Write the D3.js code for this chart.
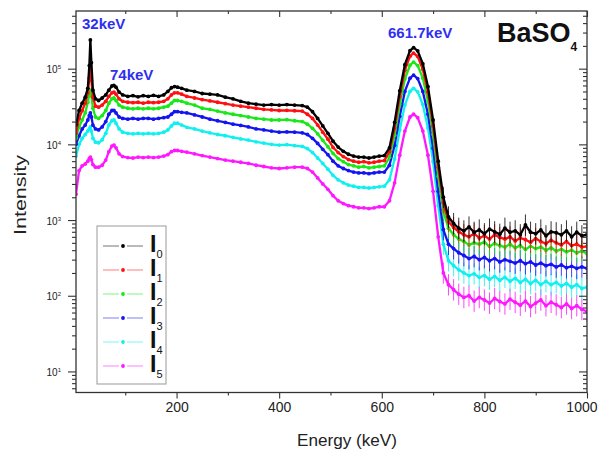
<!DOCTYPE html>
<html>
<head>
<meta charset="utf-8">
<script src="https://cdn.jsdelivr.net/npm/d3@7"></script>
<style>
  body { margin: 0; background: #fff; }
  svg text { font-family: "Liberation Sans", Arial, sans-serif; }
</style>
</head>
<body>
<svg id="chart" width="598" height="452"></svg>
<script>
// Energy channels (keV) shared by every spectrum
const energy = [4,10,16,22,27,30,32,34,37,42,48,55,62,68,74,78,82,88,95,105,115,125,135,145,155,165,175,
  183,190,196,202,210,220,235,250,265,280,295,310,325,340,355,370,385,400,415,430,445,
  455,465,475,485,495,505,515,525,535,545,555,565,575,585,595,
  605,615,625,635,645,655,662,670,680,690,700,710,720,730,
  740,750,760,770,780,790,800,810,820,830,840,850,860,870,880,890,900,910,920,930,940,950,960,970,980,990,1000];

// Intensities
const i0 = [18000,28000,35000,42000,55000,110000,240000,120000,52000,40000,38000,41000,45000,52000,59000,60000,57000,49000,45000,43000,44000,42500,44000,43000,44500,43000,45000,
  50000,56000,58000,57000,55000,52000,50000,47000,46000,45000,42000,40000,37000,35000,34000,33000,33500,33000,33500,33000,32500,
  31000,27000,22000,17500,14000,11000,9200,8100,7400,7000,6800,6800,6600,6800,7000,
  7100,9000,19500,51000,113000,173000,190000,172000,116000,58000,21000,6000,2000,1100,
  900,780,720,810,690,740,660,760,700,650,780,690,720,640,860,690,660,740,620,700,680,640,720,600,690,620,640];
const i1 = [14000,22000,28000,35000,48000,75000,105000,70000,42000,32000,31000,33000,37000,43000,48000,49000,46000,40000,37000,36000,35500,36000,35000,36000,35500,36000,37000,
  40000,45000,48000,48000,46000,43000,41000,39000,37500,36000,34500,33000,32000,31000,30000,29000,28500,28000,28200,27800,27500,
  25000,22000,18000,14500,11700,9100,7800,6900,6300,6000,5800,5900,5700,5800,6000,
  6100,8000,16500,43000,95000,146000,160000,145000,98000,49000,17500,5000,1700,950,
  800,700,640,600,660,580,620,560,640,590,560,600,530,580,550,510,570,520,490,540,500,470,520,460,480,440,450];
const i2 = [12000,17000,21000,26000,36000,46000,52000,44000,30000,23000,22000,24000,28000,35000,40000,41000,38000,33000,31000,30000,29500,30000,29500,30000,29500,30000,31000,
  32000,35000,38000,38000,37000,35000,33000,30000,29000,27500,26000,25000,24000,23000,22000,21500,21000,21000,21200,20500,20000,
  18500,16300,13800,11300,9300,7600,6500,5900,5400,5200,5000,5100,4900,5000,5100,
  5200,6700,13200,33500,73000,111000,122000,110000,75000,37000,13500,3800,1300,780,
  640,560,520,470,500,480,510,450,490,460,440,480,430,460,410,450,420,440,400,430,390,410,380,400,370,390,360];
const i3 = [10000,13000,16000,18000,21000,24000,26000,23000,18000,16000,15500,17000,20000,25000,28000,28000,26000,23000,22000,21500,22000,21500,22000,22000,21500,22000,22500,
  23000,25000,27000,27000,26500,26000,24500,23000,21500,20500,19500,18500,17800,17000,16000,15500,15000,14500,14600,14500,14200,
  13500,12000,10300,8600,7300,6000,5200,4800,4500,4300,4200,4200,4100,4200,4300,
  4300,5300,9700,23500,50000,75000,82000,74000,50000,25000,8900,2400,750,480,
  420,370,340,310,330,300,320,290,310,280,300,285,270,290,265,280,255,270,250,260,240,255,235,245,230,240,230];
const i4 = [7000,10000,12000,13500,15000,16000,17000,15000,12000,10700,10500,11500,14000,18000,20500,21000,19000,16000,14500,14000,13800,14000,13800,14000,13800,14000,14500,
  15500,17500,19000,19000,18000,16800,16000,15000,14200,13500,13000,12400,11800,11400,10800,10400,10000,9800,9900,9600,9400,
  8800,7800,6600,5600,4700,3900,3400,3100,2900,2800,2700,2700,2650,2700,2750,
  2800,3400,6400,15500,33000,50000,55000,49500,33500,16500,5900,1550,480,290,
  250,220,200,185,195,175,185,165,180,160,175,155,170,150,165,145,160,140,155,140,150,135,145,130,140,125,130];
const i5 = [2200,4500,5200,5500,6000,6500,6800,6300,5400,5000,5000,5300,6200,8000,9500,9800,9000,7500,6900,6700,6600,6800,6700,6800,6700,6800,7000,
  7300,8000,8300,8300,8100,7900,7500,7100,6800,6500,6200,6000,5800,5600,5300,5100,4900,4800,4900,5000,5000,
  4800,4300,3600,3000,2550,2100,1800,1650,1550,1500,1450,1450,1420,1450,1500,
  1500,1800,3100,7200,15000,23000,25000,22500,15000,7200,2400,600,200,140,
  120,105,95,100,85,95,88,80,92,84,78,90,82,75,85,72,80,88,74,82,76,70,78,68,74,66,62];

const seriesNames = ["0", "1", "2", "3", "4", "5"];
const seriesValues = [i0, i1, i2, i3, i4, i5];
const colors = ["#000000", "#ff1010", "#18e818", "#1414f0", "#10f0f0", "#ff18ff"];

const xTicks = [200, 400, 600, 800, 1000];
const xMinor = [100, 300, 500, 700, 900];
const yTicks = [1e1, 1e2, 1e3, 1e4, 1e5];

// peak labels
const peakLabels = ["32keV", "74keV", "661.7keV"];
const peakPos = [[82, 29], [110, 80], [388, 38]];

// plot box
const pLeft = 76, pRight = 587, pTop = 11, pBottom = 392.5;

const svg = d3.select("#chart");

const x = d3.scaleLinear().domain([4, 1000]).range([pLeft, pRight]);
const y = d3.scaleLog().domain([5.27, 5.78e5]).range([pBottom, pTop]);

// minor log ticks 2..9 of each decade inside the domain
const yMinor = [];
for (let d = 0; d <= 5; d++) {
  for (let k = 2; k <= 9; k++) {
    const v = k * Math.pow(10, d);
    if (v > 5.27 && v < 5.78e5) yMinor.push(v);
  }
}

svg.append("clipPath").attr("id", "clip")
  .append("rect")
  .attr("x", pLeft).attr("y", pTop)
  .attr("width", pRight - pLeft).attr("height", pBottom - pTop);

const plot = svg.append("g").attr("clip-path", "url(#clip)");

// Draw spectra, I5 underneath, I0 on top
const line = d3.line()
  .x((d, i) => x(energy[i]))
  .y(d => y(d));

for (let s = seriesValues.length - 1; s >= 0; s--) {
  const vals = seriesValues[s];
  const g = plot.append("g");
  // error bars in the noisy tail
  g.selectAll("line.err")
    .data(vals.map((v, i) => [energy[i], v]).filter(d => d[0] >= 720))
    .enter().append("line")
    .attr("x1", d => x(d[0])).attr("x2", d => x(d[0]))
    .attr("y1", d => y(d[1] * 0.72)).attr("y2", d => y(d[1] * 1.38))
    .attr("stroke", colors[s]).attr("stroke-width", 0.8);
  g.append("path")
    .datum(vals)
    .attr("d", line)
    .attr("fill", "none")
    .attr("stroke", colors[s])
    .attr("stroke-width", 2.3)
    .attr("stroke-linejoin", "round");
  g.selectAll("circle")
    .data(vals)
    .enter().append("circle")
    .attr("cx", (d, i) => x(energy[i]))
    .attr("cy", d => y(d))
    .attr("r", 1.9)
    .attr("fill", colors[s]);
}

// Axes
const axisColor = "#333";
const bottomAxis = svg.append("g")
  .attr("transform", "translate(0," + pBottom + ")")
  .call(d3.axisBottom(x).tickValues(xTicks).tickSize(6).tickSizeOuter(0).tickFormat(d3.format("d")));
svg.append("g")
  .attr("transform", "translate(0," + pBottom + ")")
  .call(d3.axisBottom(x).tickValues(xMinor).tickSize(3).tickSizeOuter(0).tickFormat(""));
svg.append("g")
  .attr("transform", "translate(0," + pTop + ")")
  .call(d3.axisBottom(x).tickValues(xTicks).tickSize(6).tickSizeOuter(0).tickFormat(""));
svg.append("g")
  .attr("transform", "translate(0," + pTop + ")")
  .call(d3.axisBottom(x).tickValues(xMinor).tickSize(3).tickSizeOuter(0).tickFormat(""));

const leftAxis = svg.append("g")
  .attr("transform", "translate(" + pLeft + ",0)")
  .call(d3.axisLeft(y).tickValues(yTicks).tickSize(8).tickSizeOuter(0).tickFormat(""));
svg.append("g")
  .attr("transform", "translate(" + pLeft + ",0)")
  .call(d3.axisLeft(y).tickValues(yMinor).tickSize(4).tickSizeOuter(0).tickFormat(""));
svg.append("g")
  .attr("transform", "translate(" + pRight + ",0)")
  .call(d3.axisLeft(y).tickValues(yTicks).tickSize(8).tickSizeOuter(0).tickFormat(""));
svg.append("g")
  .attr("transform", "translate(" + pRight + ",0)")
  .call(d3.axisLeft(y).tickValues(yMinor).tickSize(4).tickSizeOuter(0).tickFormat(""));

svg.selectAll(".domain").remove();
svg.selectAll(".tick line").attr("stroke", axisColor).attr("stroke-width", 1.1);

bottomAxis.selectAll(".tick text")
  .attr("fill", "#222")
  .attr("font-size", "14px")
  .attr("y", 10)
  .attr("dy", "0.71em");
// last label hugs the window edge
bottomAxis.selectAll(".tick text").filter(d => d === 1000)
  .attr("text-anchor", "end")
  .attr("x", 10);

// y labels as 10 with superscript power
leftAxis.selectAll(".tick").each(function(d) {
  const t = d3.select(this).append("text")
    .attr("x", -15).attr("y", 4)
    .attr("text-anchor", "end")
    .attr("fill", "#222")
    .attr("font-size", "10px");
  t.append("tspan").text("10");
  t.append("tspan").attr("font-size", "6px").attr("dy", -4)
    .text(Math.round(Math.log10(d)));
});

// frame
svg.append("rect")
  .attr("x", pLeft).attr("y", pTop)
  .attr("width", pRight - pLeft).attr("height", pBottom - pTop)
  .attr("fill", "none").attr("stroke", axisColor).attr("stroke-width", 1.3);

// Axis titles
svg.append("text")
  .attr("x", 347).attr("y", 446)
  .attr("text-anchor", "middle")
  .attr("font-size", "17px").attr("fill", "#222")
  .attr("textLength", 100).attr("lengthAdjust", "spacingAndGlyphs")
  .text("Energy (keV)");
svg.append("text")
  .attr("transform", "translate(26,195) rotate(-90)")
  .attr("text-anchor", "middle")
  .attr("font-size", "17px").attr("fill", "#222")
  .attr("textLength", 80).attr("lengthAdjust", "spacingAndGlyphs")
  .text("Intensity");

// peak annotations
peakLabels.forEach((lab, i) => {
  svg.append("text")
    .attr("x", peakPos[i][0]).attr("y", peakPos[i][1])
    .attr("font-size", "15px").attr("font-weight", "bold")
    .attr("fill", "#2f2ff2")
    .text(lab);
});

// sample name
const title = svg.append("text")
  .attr("x", 497).attr("y", 42)
  .attr("font-weight", "bold").attr("fill", "#111");
title.append("tspan").attr("font-size", "27px").text("BaSO");
title.append("tspan").attr("font-size", "12px").attr("dy", 9).text("4");

// Legend
const legend = svg.append("g");
legend.append("rect")
  .attr("x", 97).attr("y", 226).attr("width", 69).attr("height", 158)
  .attr("fill", "#fff").attr("stroke", "#999").attr("stroke-width", 1);

seriesNames.forEach((n, i) => {
  const ly = 246 + i * 24;
  const item = legend.append("g");
  [[103, 119], [127, 143]].forEach(seg => {
    item.append("line")
      .attr("x1", seg[0]).attr("x2", seg[1])
      .attr("y1", ly).attr("y2", ly)
      .attr("stroke", colors[i]).attr("stroke-opacity", 0.45).attr("stroke-width", 1.2);
  });
  item.append("circle")
    .attr("cx", 123).attr("cy", ly).attr("r", 1.9)
    .attr("fill", colors[i]);
  const lt = item.append("text")
    .attr("x", 150).attr("y", ly + 6)
    .attr("fill", "#111");
  lt.append("tspan").attr("font-size", "23px").attr("font-weight", "bold").text("I");
  lt.append("tspan").attr("font-size", "11px").attr("dy", 6).text(n);
});
</script>
</body>
</html>
